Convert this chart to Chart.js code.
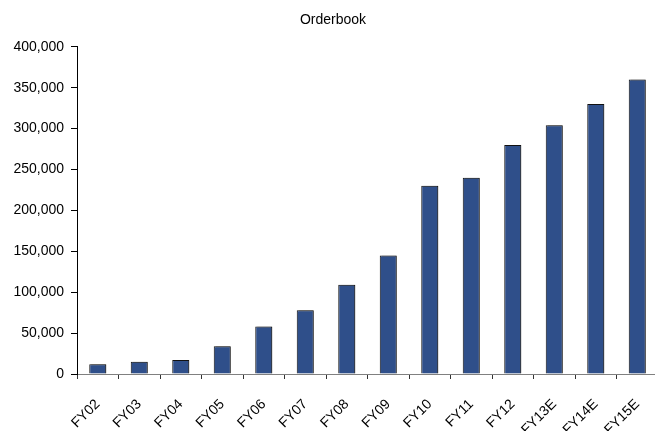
<!DOCTYPE html>
<html>
<head>
<meta charset="utf-8">
<script src="https://cdn.jsdelivr.net/npm/chart.js@4.4.1/dist/chart.umd.min.js"></script>
<style>
  html, body { margin: 0; padding: 0; background: #fff; overflow: hidden; }
  #wrap { position: relative; width: 658px; height: 431px; }
</style>
</head>
<body>
<div id="wrap"><canvas id="chart"></canvas></div>
<script>
// Order book by fiscal year (E = estimate)
const categories = ['FY02', 'FY03', 'FY04', 'FY05', 'FY06', 'FY07', 'FY08', 'FY09', 'FY10', 'FY11', 'FY12', 'FY13E', 'FY14E', 'FY15E'];
const orderbook = [12000, 15000, 17000, 34000, 58000, 78000, 109000, 145000, 230000, 240000, 280000, 304000, 330000, 360000];
const yTicks = [0, 50000, 100000, 150000, 200000, 250000, 300000, 350000, 400000];
const chartTitle = 'Orderbook';

const FONT = '"Liberation Sans", Arial, sans-serif';

// soft drop shadow behind the bars
const barShadow = {
  id: 'barShadow',
  beforeDatasetsDraw(chart) {
    const ctx = chart.ctx;
    ctx.save();
    ctx.shadowColor = 'rgba(0,0,0,0.3)';
    ctx.shadowOffsetX = 2;
    ctx.shadowOffsetY = 0;
    ctx.shadowBlur = 0;
  },
  afterDatasetsDraw(chart) {
    chart.ctx.restore();
  }
};

new Chart(document.getElementById('chart'), {
  type: 'bar',
  data: {
    labels: categories,
    datasets: [{
      label: chartTitle,
      data: orderbook,
      backgroundColor: '#2f4f8a',
      borderColor: '#111111',
      borderWidth: 1,
      barPercentage: 0.41,
      categoryPercentage: 1.0
    }]
  },
  options: {
    responsive: true,
    maintainAspectRatio: false,
    animation: false,
    layout: { padding: { left: 8, right: 0, top: 0, bottom: 0 } },
    plugins: {
      legend: { display: false },
      tooltip: { enabled: false },
      title: {
        display: true,
        text: chartTitle,
        color: '#000',
        font: { family: FONT, size: 14, weight: 'normal' },
        padding: { top: 12, bottom: 18 }
      }
    },
    scales: {
      x: {
        offset: true,
        grid: {
          offset: true,
          drawOnChartArea: false,
          drawTicks: true,
          tickLength: 5,
          color: '#333'
        },
        border: { display: true, color: '#808080', width: 1 },
        ticks: {
          color: '#000',
          font: { family: FONT, size: 14 },
          maxRotation: 45,
          minRotation: 45,
          padding: 17,
          autoSkip: false
        },
        afterFit(scale) {
          scale.height = 57;
          // let the plot run to the right edge; rotated labels sit inside anyway
          scale.paddingLeft = 0;
          scale.paddingRight = 0;
        }
      },
      y: {
        min: 0,
        max: 400000,
        afterBuildTicks(scale) { scale.ticks = yTicks.map(v => ({ value: v })); },
        grid: {
          drawOnChartArea: false,
          drawTicks: true,
          tickLength: 6,
          color: '#000'
        },
        border: { display: true, color: '#000', width: 1 },
        ticks: {
          color: '#000',
          font: { family: FONT, size: 14 },
          padding: 7,
          callback: v => v.toLocaleString('en-US')
        },
        afterFit(scale) { scale.width = 69; }
      }
    }
  },
  plugins: [barShadow]
});
</script>
</body>
</html>
